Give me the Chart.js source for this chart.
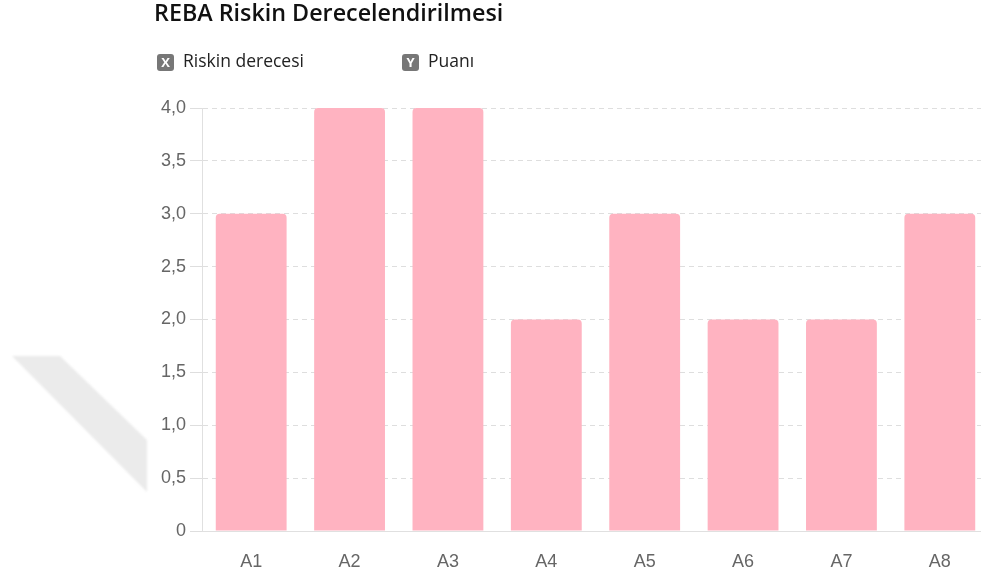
<!DOCTYPE html>
<html>
<head>
<meta charset="utf-8">
<script src="https://cdn.jsdelivr.net/npm/chart.js@4.4.1/dist/chart.umd.min.js"></script>
<style>
  html, body { margin: 0; padding: 0; background: #fff; overflow: hidden; }
  #wrap { width: 990px; height: 575px; }
</style>
</head>
<body>
<div id="wrap"><canvas id="rebaChart" width="990" height="575"></canvas></div>
<script>
const chartTitle = 'REBA Riskin Derecelendirilmesi';
const axisBadges = [
    { badge: 'X', text: 'Riskin derecesi' },
    { badge: 'Y', text: 'Puanı' }
];
const categories = ['A1', 'A2', 'A3', 'A4', 'A5', 'A6', 'A7', 'A8'];
const riskScores = [3, 4, 4, 2, 3, 2, 2, 3];
const yTicks = [0, 0.5, 1, 1.5, 2, 2.5, 3, 3.5, 4];

const HEAD_FONT = '"Open Sans", "Noto Sans", sans-serif';
const TICK_FONT = '"Liberation Sans", Arial, sans-serif';

// title, the two axis badges and the faint grey band on the left
const headerPlugin = {
    id: 'header',
    beforeDraw(chart) {
        const ctx = chart.ctx;
        ctx.save();
        ctx.fillStyle = 'rgba(226, 226, 226, 0.7)';
        ctx.filter = 'blur(1px)';
        ctx.beginPath();
        ctx.moveTo(12, 356);
        ctx.lineTo(60, 356);
        ctx.lineTo(147, 440);
        ctx.lineTo(147, 492);
        ctx.closePath();
        ctx.fill();
        ctx.restore();
    },
    afterDraw(chart) {
        const ctx = chart.ctx;
        ctx.save();
        ctx.textBaseline = 'middle';
        ctx.fillStyle = '#111';
        ctx.font = '600 23.3px ' + HEAD_FONT;
        ctx.fillText(chartTitle, 154, 14);

        const xs = [157, 402];
        axisBadges.forEach((item, i) => {
            const x = xs[i], y = 54;
            ctx.fillStyle = '#777';
            ctx.beginPath();
            ctx.roundRect(x, y, 17, 17, 3);
            ctx.fill();
            ctx.fillStyle = '#fff';
            ctx.font = 'bold 13px ' + HEAD_FONT;
            ctx.textAlign = 'center';
            ctx.fillText(item.badge, x + 8.5, y + 9);
            ctx.textAlign = 'left';
            ctx.fillStyle = '#222';
            ctx.font = '17.5px ' + HEAD_FONT;
            ctx.fillText(item.text, x + 26, y + 8.5);
        });
        ctx.restore();
    }
};

const ctx = document.getElementById('rebaChart').getContext('2d');
new Chart(ctx, {
    type: 'bar',
    data: {
        labels: categories,
        datasets: [{
            label: 'Puanı',
            data: riskScores,
            backgroundColor: 'rgb(255, 179, 193)',
            borderRadius: 4,
            borderSkipped: 'start'
        }]
    },
    plugins: [headerPlugin],
    options: {
        responsive: false,
        animation: false,
        layout: { padding: { top: 108, left: 0, right: 1, bottom: 0 } },
        plugins: {
            legend: { display: false },
            title: { display: false },
            tooltip: { enabled: false }
        },
        scales: {
            x: {
                grid: { display: false },
                border: { color: '#e0e0e0' },
                ticks: { color: '#666', padding: 12, font: { family: TICK_FONT, size: 18 } },
                afterFit: s => { s.height = 44; }
            },
            y: {
                min: 0,
                max: 4,
                afterBuildTicks: s => { s.ticks = yTicks.map(v => ({ value: v })); },
                grid: {
                    color: '#dedede',
                    tickLength: 12,
                    tickBorderDash: []
                },
                border: { color: '#e0e0e0', dash: [5, 4] },
                ticks: {
                    color: '#666',
                    padding: 4,
                    font: { family: TICK_FONT, size: 18 },
                    callback: v => v === 0 ? '0' : v.toFixed(1).replace('.', ',')
                },
                afterFit: s => { s.width = 202; }
            }
        }
    }
});
</script>
</body>
</html>
